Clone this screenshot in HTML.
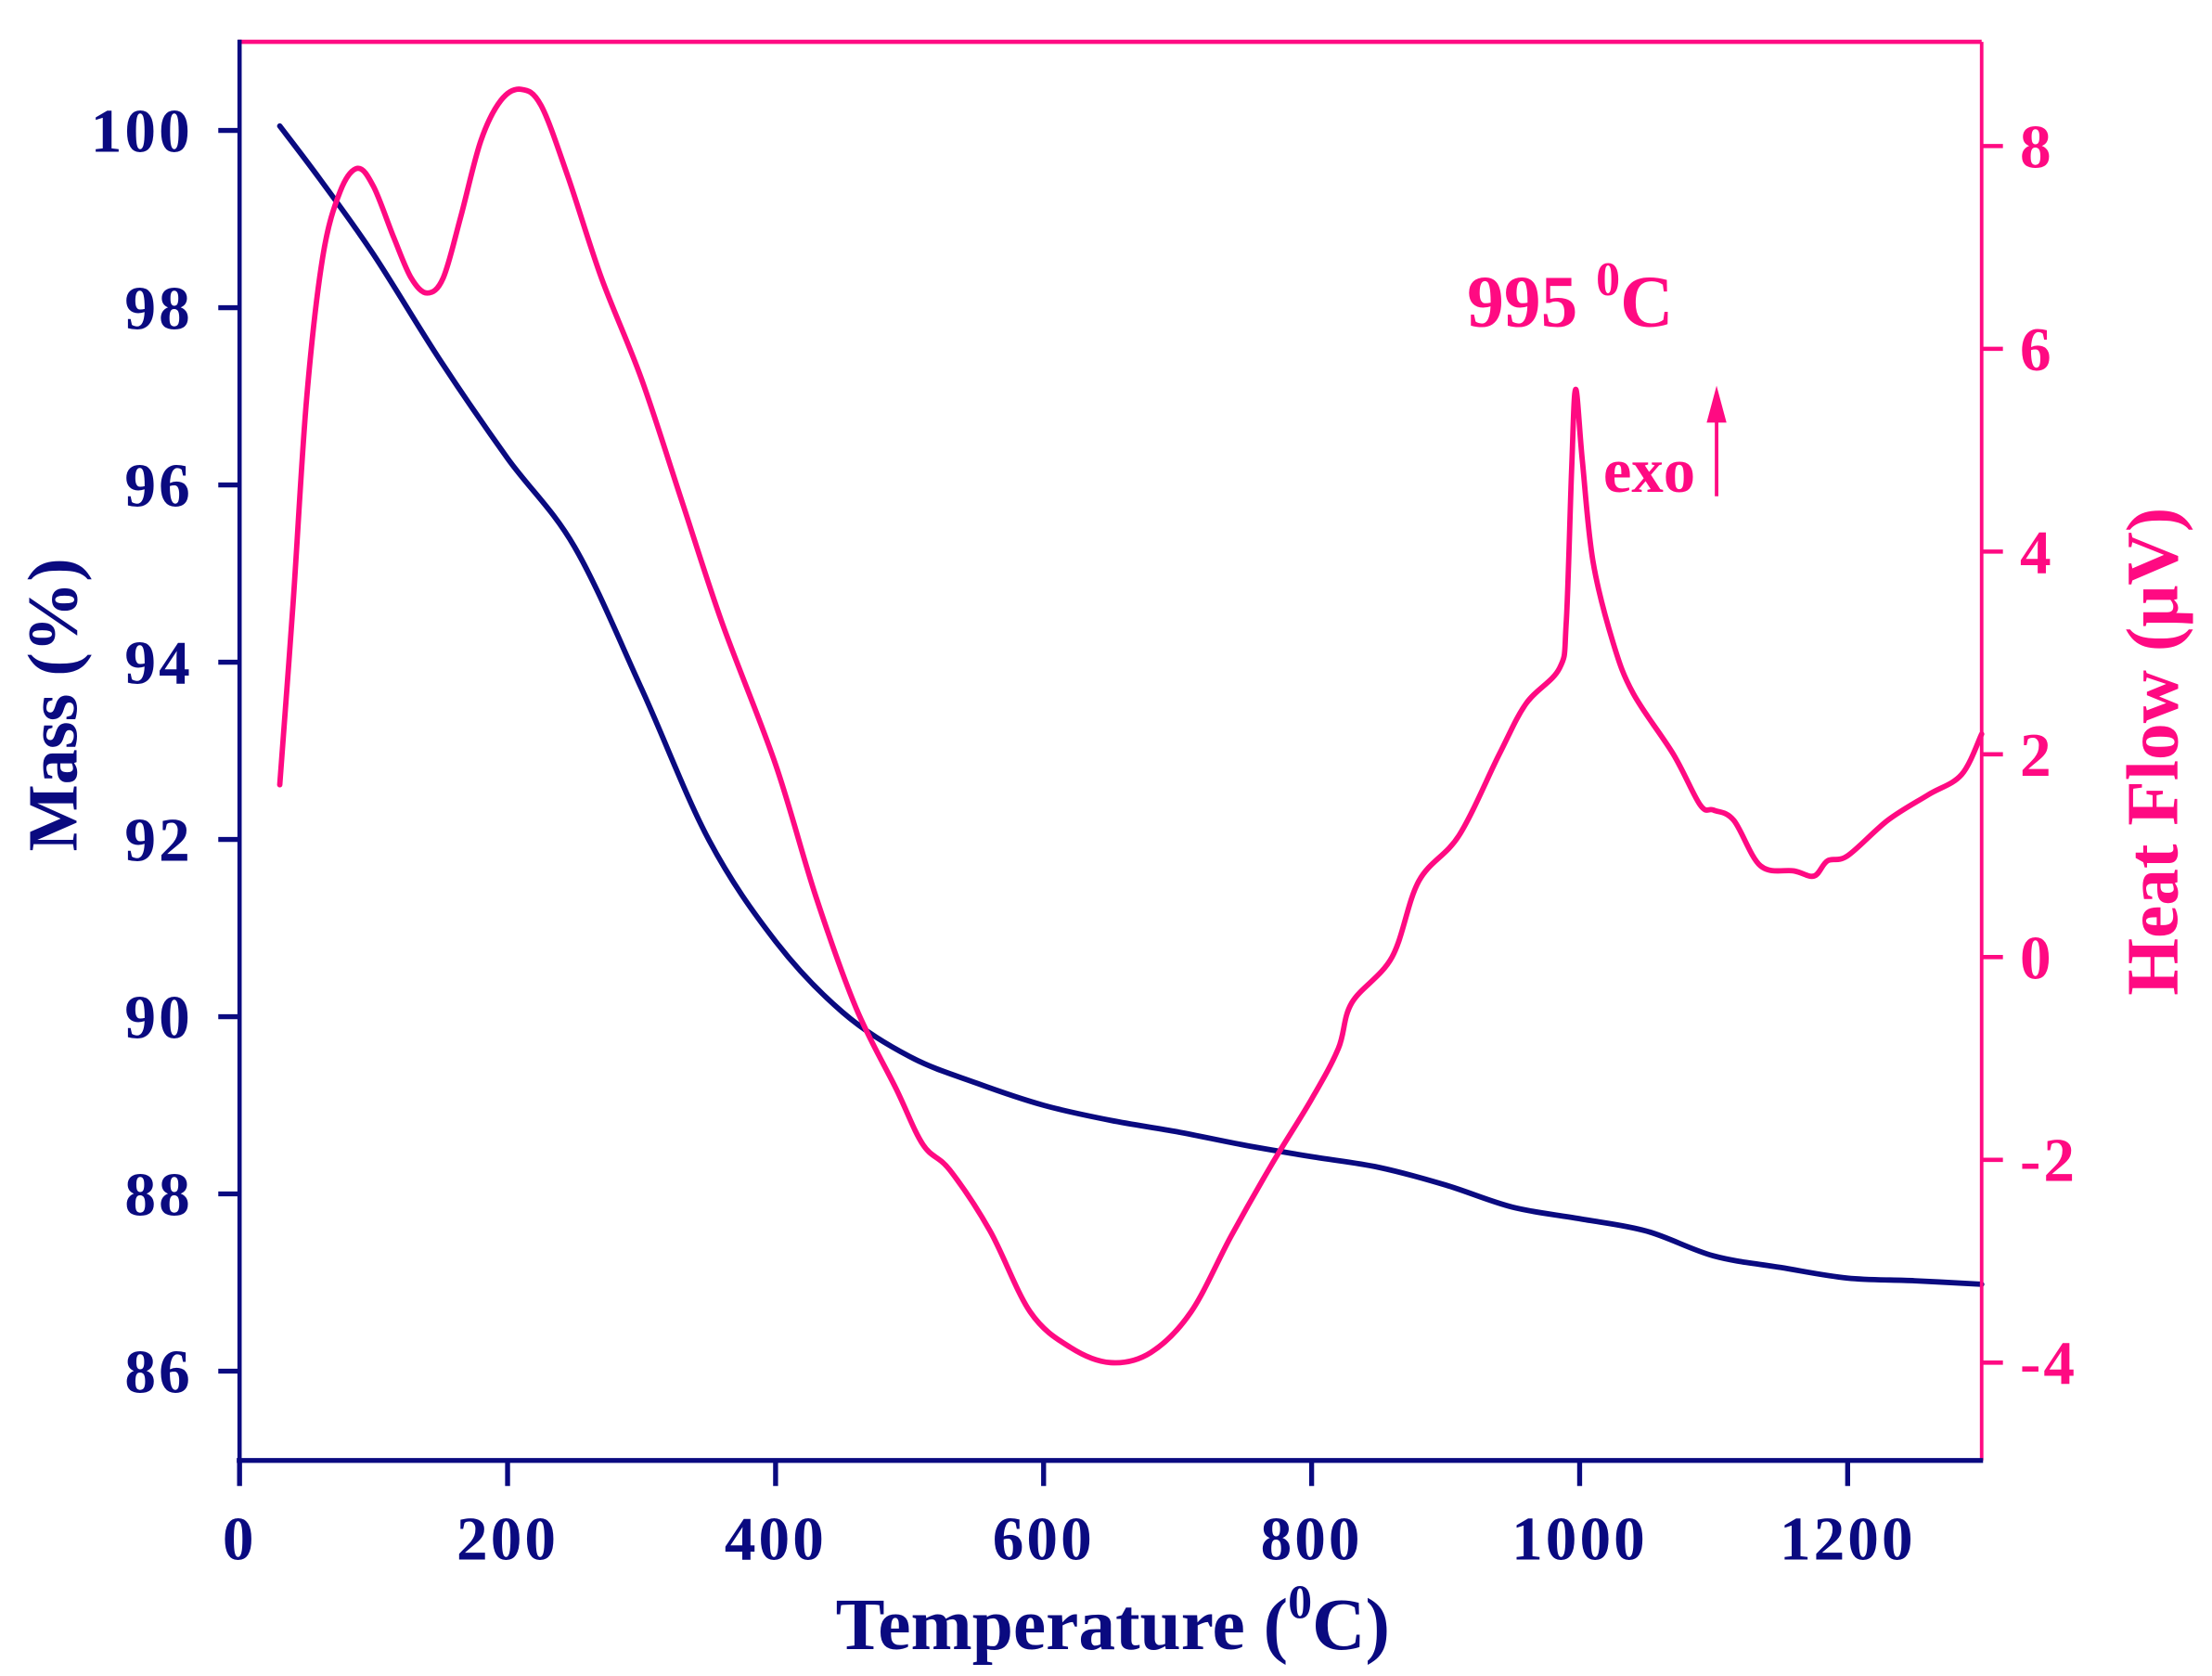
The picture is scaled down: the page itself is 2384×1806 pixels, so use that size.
<!DOCTYPE html>
<html><head><meta charset="utf-8"><style>
html,body{margin:0;padding:0;background:#fff;}
svg{display:block;}
text{font-family:"Liberation Serif",serif;font-weight:bold;}
</style></head><body>
<svg id="s" width="2384" height="1806" viewBox="0 0 1560.5 1182" preserveAspectRatio="none" xmlns="http://www.w3.org/2000/svg">
<rect width="1560.5" height="1182" fill="#fff"/>
<g id="curves"></g>
<line x1="168" y1="29.5" x2="1398" y2="29.5" stroke="#ff0a82" stroke-width="3"/>
<line x1="1398" y1="29.5" x2="1398" y2="1030" stroke="#ff0a82" stroke-width="2.5"/>
<line x1="169" y1="28" x2="169" y2="1030" stroke="#0a0a80" stroke-width="3"/>
<line x1="167" y1="1030" x2="1399" y2="1030" stroke="#0a0a80" stroke-width="3.5"/>
<g id="ticks"></g>
<text x="0" y="0" transform="translate(54,497) rotate(-90)" text-anchor="middle" font-size="50" fill="#0a0a80">Mass (%)</text>
<text x="0" y="0" transform="translate(1536,530) rotate(-90)" text-anchor="middle" font-size="52" fill="#ff0a82">Heat Flow (μV)</text>
<text x="785" y="1163" text-anchor="middle" font-size="52" fill="#0a0a80">Temperature (<tspan font-size="34" dy="-22">0</tspan><tspan dy="22">C)</tspan></text>
<text x="1035" y="230" font-size="52" fill="#ff0a82">995 <tspan font-size="34" dy="-22">0</tspan><tspan dy="22">C</tspan></text>
<text x="1131" y="347" font-size="45" fill="#ff0a82">exo</text>
<line x1="1211" y1="350" x2="1211" y2="290" stroke="#ff0a82" stroke-width="2.5"/>
<polygon points="1204,298 1218,298 1211,272" fill="#ff0a82"/>
</svg>
<script>
const NS="http://www.w3.org/2000/svg";
const X=t=>169+t*(1229/1300);
const YM=m=>92+(100-m)*62.5;
const YH=h=>103+(8-h)*71.5;
const mass=[[30,100.05],[60,99.45],[100,98.6],[150,97.4],[200,96.3],[250,95.3],[300,93.7],[350,92.0],[400,90.85],[450,90.05],[500,89.55],[550,89.25],[600,89.0],[650,88.83],[700,88.7],[750,88.55],[800,88.42],[850,88.3],[900,88.1],[950,87.85],[1000,87.72],[1050,87.58],[1100,87.3],[1150,87.17],[1200,87.05],[1250,87.02],[1300,86.98]];
const heat=[[30,1.7],[40,3.5],[50,5.5],[62,6.9],[75,7.55],[88,7.78],[100,7.6],[115,7.1],[128,6.7],[140,6.55],[152,6.7],[165,7.3],[180,8.05],[195,8.45],[210,8.56],[225,8.4],[245,7.7],[270,6.7],[300,5.7],[330,4.5],[360,3.3],[400,1.9],[430,0.6],[460,-0.5],[490,-1.3],[510,-1.85],[530,-2.1],[560,-2.7],[590,-3.5],[620,-3.85],[650,-4.0],[680,-3.9],[710,-3.5],[740,-2.75],[770,-2.05],[800,-1.4],[820,-0.9],[830,-0.45],[860,0.0],[880,0.75],[910,1.2],[940,2.0],[960,2.5],[985,2.85],[990,3.3],[994,4.8],[997,5.6],[1002,4.9],[1010,3.9],[1025,3.1],[1040,2.6],[1070,2.0],[1090,1.5],[1100,1.45],[1115,1.35],[1135,0.9],[1160,0.85],[1175,0.8],[1185,0.95],[1200,1.0],[1230,1.35],[1260,1.6],[1285,1.8],[1300,2.2]];
function smooth(pts){let d="M"+pts[0][0]+","+pts[0][1];for(let i=0;i<pts.length-1;i++){const p0=pts[Math.max(0,i-1)],p1=pts[i],p2=pts[i+1],p3=pts[Math.min(pts.length-1,i+2)];const c1=[p1[0]+(p2[0]-p0[0])/6,p1[1]+(p2[1]-p0[1])/6],c2=[p2[0]-(p3[0]-p1[0])/6,p2[1]-(p3[1]-p1[1])/6];d+=` C${c1[0]},${c1[1]} ${c2[0]},${c2[1]} ${p2[0]},${p2[1]}`;}return d;}
function path(d,c,w){const p=document.createElementNS(NS,"path");p.setAttribute("d",d);p.setAttribute("fill","none");p.setAttribute("stroke",c);p.setAttribute("stroke-width",w);p.setAttribute("stroke-linejoin","round");p.setAttribute("stroke-linecap","round");document.getElementById("curves").appendChild(p);}
path(smooth(mass.map(p=>[X(p[0]),YM(p[1])])),"#0a0a80",3.8);
path(smooth(heat.map(p=>[X(p[0]),YH(p[1])])),"#ff0a82",3.8);
const T=document.getElementById("ticks");
function ln(x1,y1,x2,y2,c,w){const l=document.createElementNS(NS,"line");l.setAttribute("x1",x1);l.setAttribute("y1",y1);l.setAttribute("x2",x2);l.setAttribute("y2",y2);l.setAttribute("stroke",c);l.setAttribute("stroke-width",w);T.appendChild(l);}
function tx(x,y,s,c,a){const t=document.createElementNS(NS,"text");t.setAttribute("x",x);t.setAttribute("y",y);t.setAttribute("fill",c);t.setAttribute("font-size","44");t.setAttribute("letter-spacing","2");t.setAttribute("text-anchor",a);t.textContent=s;T.appendChild(t);}
for(let m=86;m<=100;m+=2){const y=YM(m);ln(154,y,169,y,"#0a0a80",3.5);tx(136,y+15,String(m),"#0a0a80","end");}
for(let h=-4;h<=8;h+=2){const y=YH(h);ln(1398,y,1413,y,"#ff0a82",3);tx(1425,y+15,h<0?"-"+(-h):String(h),"#ff0a82","start");}
for(let t=0;t<=1200;t+=200){const x=X(t);ln(x,1030,x,1048,"#0a0a80",3.5);tx(x,1100,String(t),"#0a0a80","middle");}
</script>
</body></html>
